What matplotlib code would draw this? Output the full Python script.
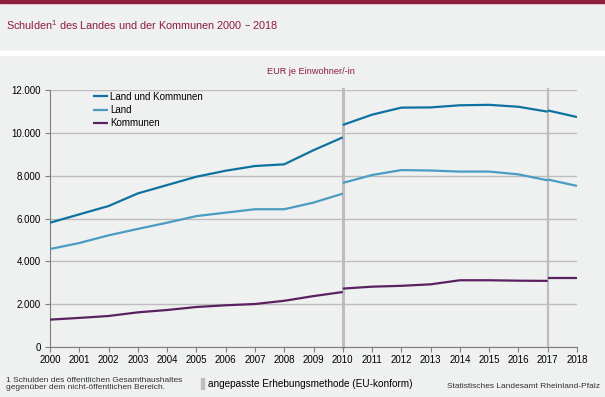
import matplotlib.pyplot as plt
from matplotlib.ticker import FuncFormatter
from matplotlib.patches import Rectangle

# --- Data (EUR je Einwohner/-in) ---
# Bruch in der Zeitreihe 2010 und 2017 (angepasste Erhebungsmethode)
years_a = [2000, 2001, 2002, 2003, 2004, 2005, 2006, 2007, 2008, 2009, 2010]
years_b = [2010, 2011, 2012, 2013, 2014, 2015, 2016, 2017]
years_c = [2017, 2018]

land_kommunen_a = [5810, 6200, 6590, 7180, 7570, 7960, 8240, 8460, 8540, 9200, 9800]
land_kommunen_b = [10380, 10860, 11190, 11200, 11300, 11320, 11230, 11000]
land_kommunen_c = [11060, 10750]

land_a = [4580, 4860, 5220, 5520, 5810, 6120, 6280, 6440, 6440, 6750, 7170]
land_b = [7670, 8040, 8270, 8250, 8200, 8200, 8070, 7790]
land_c = [7830, 7530]

kommunen_a = [1280, 1360, 1450, 1620, 1730, 1870, 1950, 2010, 2160, 2380, 2570]
kommunen_b = [2730, 2820, 2860, 2930, 3120, 3120, 3100, 3090]
kommunen_c = [3230, 3230]

break_years = [2010, 2017]

# --- Style ---
BG = '#eff0f0'
DARKRED = '#8c1d3c'
GRID = '#bdbdbd'
COLORS = {
    'lk': '#0e72a0',
    'land': '#4a9cc2',
    'kom': '#5a2160',
}
plt.rcParams['font.family'] = ['Liberation Sans', 'DejaVu Sans']

fig = plt.figure(figsize=(6.05, 3.97), dpi=100, facecolor=BG)

# header bands
fig.patches.append(Rectangle((0, 1 - 3 / 397), 1, 3 / 397, transform=fig.transFigure,
                             color=DARKRED, zorder=0))
fig.patches.append(Rectangle((0, 1 - 55 / 397), 1, 4 / 397, transform=fig.transFigure,
                             color='white', zorder=0))

fig.text(6 / 605, 1 - 25 / 397, 'Schulden$^{\\mathregular{1}}$ des Landes und der Kommunen 2000 – 2018',
         color=DARKRED, fontsize=7.8, va='center', ha='left')
fig.text(311 / 605, 1 - 72 / 397, 'EUR je Einwohner/-in', color=DARKRED,
         fontsize=6.6, va='center', ha='center')

ax = fig.add_axes([50 / 605, 1 - 347 / 397, 527 / 605, 256.7 / 397])
ax.set_facecolor(BG)

for x in break_years:
    ax.axvline(x, color=GRID, lw=2.2 if x == 2010 else 1.6, zorder=1, ymax=1.005, clip_on=False)

series = [
    ('Land und Kommunen', COLORS['lk'], land_kommunen_a, land_kommunen_b, land_kommunen_c),
    ('Land', COLORS['land'], land_a, land_b, land_c),
    ('Kommunen', COLORS['kom'], kommunen_a, kommunen_b, kommunen_c),
]
for label, color, a, b, c in series:
    ax.plot(years_a, a, color=color, lw=1.6, label=label, zorder=3, solid_capstyle='butt')
    ax.plot(years_b, b, color=color, lw=1.6, zorder=3, solid_capstyle='butt')
    ax.plot(years_c, c, color=color, lw=1.6, zorder=3, solid_capstyle='butt')

ax.set_xlim(2000, 2018)
ax.set_ylim(0, 12000)
ax.set_xticks(range(2000, 2019))
ax.set_yticks(range(0, 12001, 2000))
ax.yaxis.set_major_formatter(FuncFormatter(lambda v, p: f'{int(v):,}'.replace(',', '.')))
ax.grid(axis='y', color=GRID, lw=1.0, zorder=0)
ax.grid(axis='x', visible=False)

for s in ['top', 'right']:
    ax.spines[s].set_visible(False)
ax.spines['left'].set_color('#7f7f7f')
ax.spines['bottom'].set_color('#7f7f7f')
ax.tick_params(axis='both', colors='#7f7f7f', labelcolor='black', labelsize=7, length=3.5, width=0.8)
ax.tick_params(axis='y', pad=3)
ax.tick_params(axis='x', pad=2)

leg = ax.legend(loc='upper left', bbox_to_anchor=(0.075, 1.01), frameon=False, fontsize=7,
                handlelength=1.5, handletextpad=0.2, labelspacing=0.35, borderaxespad=0)

# footer
fig.text(6 / 605, 1 - 384 / 397, '1 Schulden des öffentlichen Gesamthaushaltes\ngegenüber dem nicht-öffentlichen Bereich.',
         fontsize=6.0, color='#333333', va='center', ha='left', linespacing=1.15)
fig.patches.append(Rectangle((201 / 605, 1 - 389 / 397), 3 / 605, 11 / 397, transform=fig.transFigure,
                             color=GRID, zorder=0))
fig.text(208 / 605, 1 - 384 / 397, 'angepasste Erhebungsmethode (EU-konform)',
         fontsize=7.2, color='black', va='center', ha='left')
fig.text(600 / 605, 1 - 386 / 397, 'Statistisches Landesamt Rheinland-Pfalz',
         fontsize=6.0, color='#333333', va='center', ha='right')

fig.savefig('out.png', dpi=100, facecolor=BG)
